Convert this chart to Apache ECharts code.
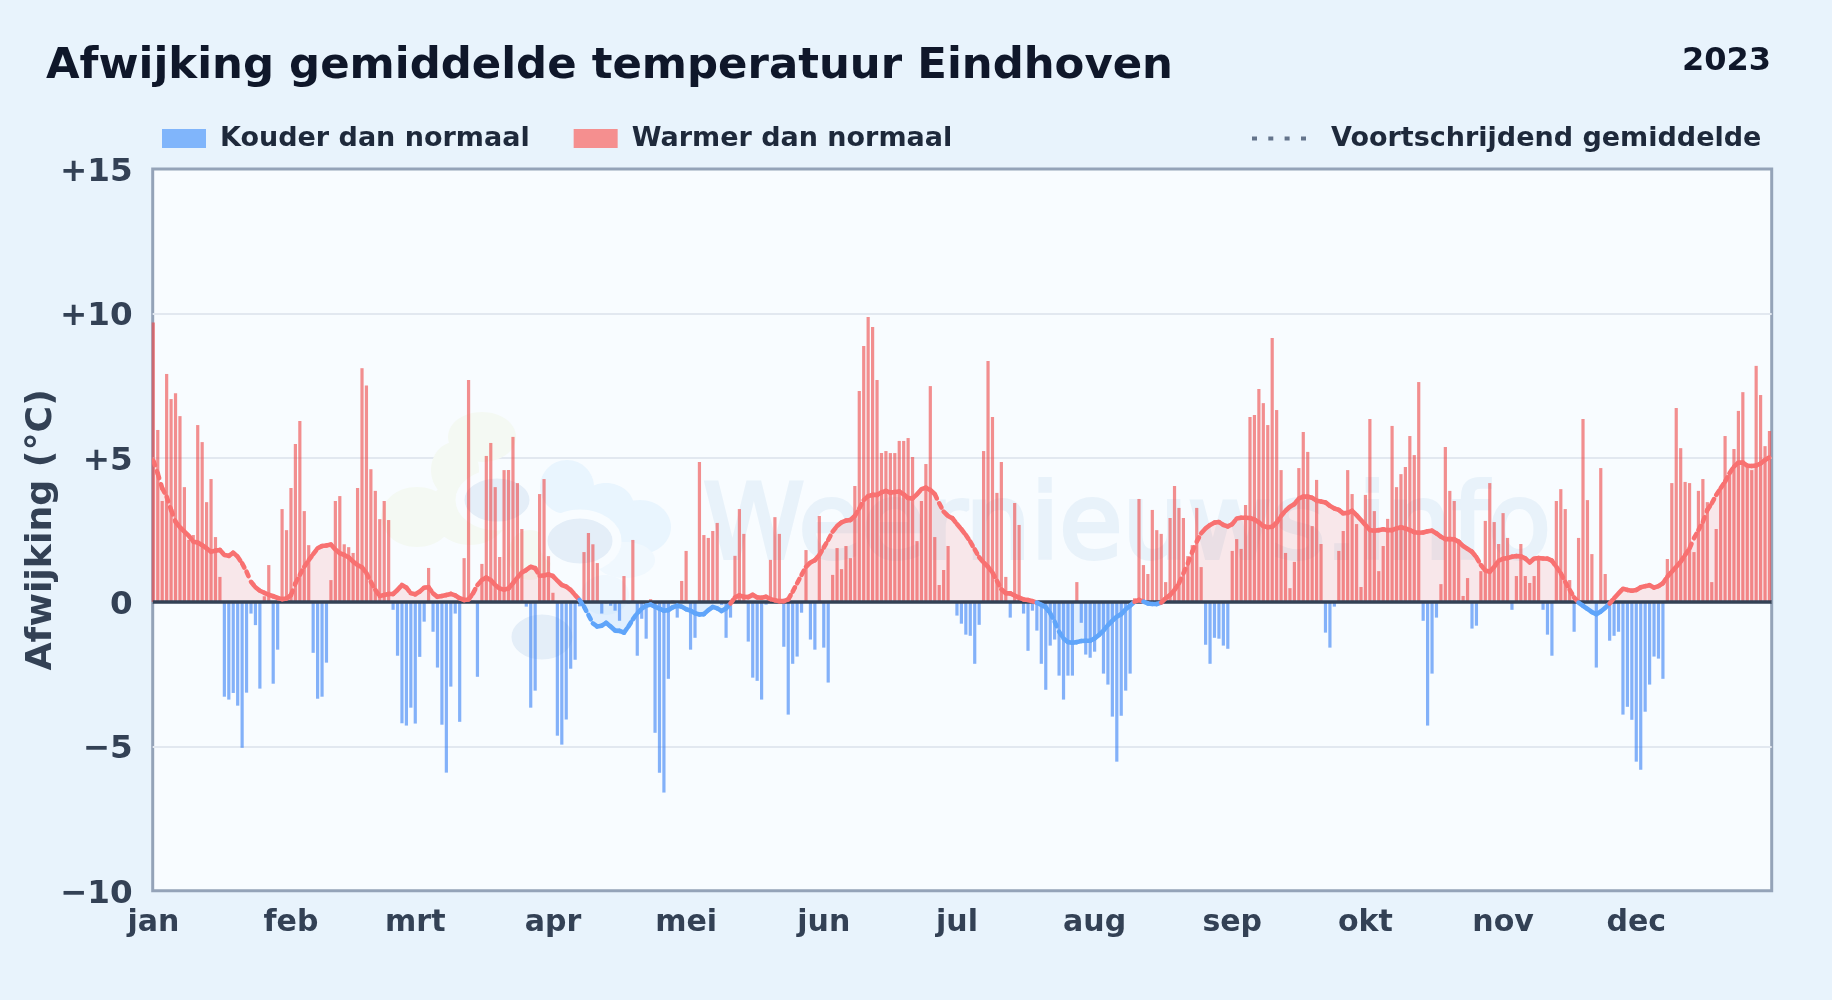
<!DOCTYPE html>
<html><head><meta charset="utf-8">
<style>html,body{margin:0;padding:0;background:#e8f3fc}#c{width:1832px;height:1000px}</style>
<script src="https://cdn.jsdelivr.net/npm/echarts@6/dist/echarts.min.js"></script>
</head><body><div id="c"></div>
<script>
const titleText = 'Afwijking gemiddelde temperatuur Eindhoven';
const yearText = '2023';
const yAxisTitle = 'Afwijking (°C)';
const monthNames = ['jan','feb','mrt','apr','mei','jun','jul','aug','sep','okt','nov','dec'];
const monthStarts = [0,31,59,90,120,151,181,212,243,273,304,334];
const yTicks = {'15':'+15','10':'+10','5':'+5','0':'0','-5':'−5','-10':'−10'};
const deviation = [
9.68,5.96,3.5,7.9,7.03,7.23,6.44,3.98,2.15,2.32,6.13,5.54,3.46,4.26,2.25,0.87,-3.28,-3.38,-3.15,-3.59,-5.05,-3.14,-0.4,-0.8,-3.0,0.2,1.28,-2.83,-1.65,3.22,2.49,
3.95,5.47,6.27,3.15,1.97,-1.76,-3.35,-3.28,-2.1,0.76,3.5,3.67,2.0,1.9,1.7,3.95,8.1,7.5,4.6,3.85,2.87,3.5,2.84,-0.27,-1.86,-4.2,-4.28,-3.66,
-4.21,-1.9,-0.68,1.18,-1.03,-2.27,-4.25,-5.91,-2.93,-0.4,-4.15,1.52,7.69,0.05,-2.59,1.32,5.06,5.51,3.98,1.56,4.57,4.57,5.72,4.12,2.53,-0.16,-3.66,-3.07,3.74,4.26,1.59,
0.32,-4.63,-4.94,-4.07,-2.31,-2.0,-0.15,1.73,2.39,2.0,1.35,-0.4,-0.05,-0.13,-0.3,-0.65,0.9,-0.05,2.15,-1.86,-0.58,-1.27,0.1,-4.53,-5.91,-6.6,-2.66,0.05,-0.54,0.73,
1.77,-1.65,-1.24,4.85,2.32,2.22,2.46,2.74,-0.1,-1.24,-0.54,1.6,3.22,2.36,-1.37,-2.62,-2.73,-3.38,-0.09,1.46,2.94,2.36,-1.55,-3.9,-2.14,-1.89,-0.37,1.8,-1.3,-1.65,2.98,
-1.58,-2.79,0.94,1.87,1.14,1.94,1.52,4.02,7.31,8.87,9.87,9.53,7.69,5.16,5.23,5.16,5.16,5.58,5.58,5.68,5.02,2.11,3.5,4.78,7.48,2.25,0.59,1.11,1.94,0.03,
-0.47,-0.75,-1.13,-1.17,-2.14,-0.79,5.23,8.35,6.41,3.78,4.85,0.87,-0.54,3.43,2.67,-0.4,-1.69,-0.3,-0.99,-2.14,-3.04,-1.51,-1.3,-2.55,-3.38,-2.55,-2.55,0.69,-0.72,-1.82,-1.93,
-1.72,-1.2,-2.48,-2.86,-3.97,-5.53,-3.94,-3.07,-2.48,0.13,3.57,1.28,0.97,3.19,2.49,2.36,0.69,2.91,4.02,3.26,2.91,1.59,1.97,3.26,1.21,-1.48,-2.14,-1.24,-1.27,-1.51,
-1.62,1.77,2.18,1.84,3.36,6.41,6.48,7.38,6.89,6.13,9.15,6.65,4.57,1.7,0.48,1.39,4.64,5.89,5.2,2.63,4.23,2.01,-1.06,-1.58,-0.16,1.77,2.46,4.57,3.74,2.7,0.52,
3.71,6.34,3.15,1.07,1.94,2.88,6.1,3.98,4.43,4.68,5.75,5.09,7.62,-0.65,-4.28,-2.48,-0.54,0.62,5.37,3.85,3.5,2.11,0.21,0.83,-0.92,-0.82,1.07,2.81,4.12,
2.77,2.01,3.08,2.22,-0.27,0.9,2.01,0.9,0.66,0.9,1.45,-0.27,-1.13,-1.86,3.5,3.91,3.22,0.76,-1.03,2.22,6.34,3.53,1.66,-2.27,4.64,0.97,-1.34,-1.17,-1.03,-3.9,
-3.63,-4.08,-5.53,-5.81,-3.8,-2.86,-1.89,-1.96,-2.66,1.49,4.12,6.72,5.33,4.16,4.12,1.73,3.85,4.26,3.46,0.69,2.53,3.9,5.75,4.5,5.3,6.62,7.27,4.66,4.57,8.18,7.17,5.4,5.92
];
const runningMean = [
4.9,4.45,3.94,3.65,3.19,2.78,2.59,2.44,2.29,2.09,2.06,1.97,1.86,1.74,1.78,1.8,1.63,1.6,1.71,1.57,1.34,1.05,0.7,0.51,0.39,0.32,0.25,0.2,0.14,0.1,0.12,
0.24,0.65,0.94,1.22,1.45,1.66,1.86,1.94,1.96,1.99,1.82,1.69,1.63,1.55,1.4,1.28,1.2,1.0,0.7,0.42,0.21,0.24,0.28,0.28,0.42,0.59,0.5,0.3,
0.27,0.36,0.5,0.51,0.3,0.18,0.21,0.24,0.28,0.23,0.13,0.07,0.09,0.3,0.59,0.76,0.85,0.76,0.59,0.47,0.43,0.47,0.65,0.85,1.02,1.11,1.22,1.17,0.91,0.92,0.96,
0.9,0.74,0.59,0.53,0.42,0.24,0.07,-0.16,-0.45,-0.74,-0.85,-0.82,-0.72,-0.85,-0.99,-1.0,-1.06,-0.85,-0.6,-0.39,-0.23,-0.13,-0.09,-0.16,-0.23,-0.3,-0.28,-0.18,-0.13,-0.16,
-0.25,-0.3,-0.39,-0.43,-0.42,-0.28,-0.17,-0.22,-0.31,-0.22,-0.05,0.16,0.23,0.18,0.17,0.25,0.16,0.15,0.18,0.1,0.06,0.03,0.03,0.09,0.36,0.65,0.94,1.22,1.37,1.45,1.63,
1.89,2.15,2.44,2.63,2.76,2.82,2.84,2.98,3.24,3.53,3.67,3.71,3.71,3.8,3.85,3.79,3.81,3.83,3.73,3.6,3.59,3.73,3.91,3.96,3.88,3.74,3.42,3.13,2.98,2.9,
2.7,2.52,2.32,2.09,1.82,1.55,1.37,1.22,1.02,0.73,0.44,0.3,0.3,0.22,0.15,0.09,0.07,0.03,-0.02,-0.1,-0.18,-0.39,-0.68,-1.03,-1.26,-1.39,-1.41,-1.39,-1.35,-1.34,-1.34,
-1.26,-1.14,-0.99,-0.8,-0.65,-0.51,-0.42,-0.25,-0.13,0.01,0.07,0.01,-0.05,-0.07,-0.07,-0.02,0.13,0.24,0.42,0.65,0.99,1.34,1.74,2.09,2.38,2.55,2.67,2.75,2.77,2.67,
2.62,2.7,2.89,2.92,2.92,2.91,2.86,2.76,2.63,2.59,2.61,2.75,2.98,3.16,3.3,3.39,3.59,3.65,3.65,3.61,3.51,3.48,3.45,3.33,3.24,3.19,3.07,3.09,3.16,3.01,
2.84,2.67,2.49,2.47,2.49,2.52,2.49,2.49,2.55,2.59,2.55,2.49,2.42,2.4,2.41,2.45,2.47,2.38,2.26,2.18,2.18,2.17,2.09,1.94,1.84,1.74,1.55,1.28,1.09,1.05,
1.22,1.43,1.5,1.52,1.57,1.59,1.58,1.51,1.37,1.51,1.52,1.51,1.5,1.43,1.22,0.99,0.7,0.42,0.16,-0.02,-0.13,-0.24,-0.35,-0.42,-0.33,-0.2,-0.05,0.13,0.3,0.46,
0.42,0.39,0.42,0.51,0.55,0.58,0.5,0.55,0.65,0.88,1.05,1.22,1.4,1.63,1.86,2.21,2.49,2.78,3.19,3.42,3.71,3.94,4.17,4.46,4.69,4.83,4.83,4.72,4.71,4.73,4.8,4.92,5.01
];
const RED='#f87171', BLUE='#60a5fa', FONT='"DejaVu Sans"';
const warm = deviation.map((v,i)=> v>=0 ? [i,v] : [i,null]);
const cold = deviation.map((v,i)=> v<0 ? [i,v] : [i,null]);
const pos = runningMean.map((v,i)=>[i,Math.max(v,0)]);
const neg = runningMean.map((v,i)=>[i,Math.min(v,0)]);
const segs = runningMean.slice(1).map((v,i)=>[i,runningMean[i],i+1,v]);
const blob=(cx,cy,rx,ry,fill,stroke)=>({type:'ellipse',shape:{cx,cy,rx,ry},style:{fill,stroke:stroke||null,lineWidth:stroke?9:0},z:1,silent:true});
const GRN='#f4f9f3', LBL='#e9f5fe', SLT='#e4eef8', PLOT='#f8fcff';
const chart = echarts.init(document.getElementById('c'),null,{renderer:'canvas'});
const areaSeries=(name,data,color)=>({type:'line',name,data,symbol:'none',lineStyle:{width:0},areaStyle:{color,opacity:.15,origin:0},z:1.5,silent:true,animation:false});
const legendText={fontFamily:FONT,fontWeight:'bold',fontSize:27,color:'#1e293b'};
chart.setOption({
 animation:false,
 backgroundColor:'#e8f3fc',
 textStyle:{fontFamily:FONT},
 title:[
  {text:titleText,left:46,top:45.5,padding:0,textStyle:{fontFamily:FONT,fontWeight:'bold',fontSize:43.4,color:'#0f172a'}},
  {text:yearText,right:61,top:46,padding:0,textStyle:{fontFamily:FONT,fontWeight:'bold',fontSize:32,color:'#0f172a'}}
 ],
 legend:[
  {left:162,top:125,padding:0,itemWidth:44,itemHeight:19,itemGap:44,
   data:[{name:'Kouder dan normaal',icon:'rect',itemStyle:{color:'#80b5fb',opacity:1}},{name:'Warmer dan normaal',icon:'rect',itemStyle:{color:'#f58f8f',opacity:1}}],
   textStyle:{...legendText,padding:[0,0,0,9]},selectedMode:false},
  {left:1252,top:125,padding:0,itemWidth:54,itemHeight:4,
   data:[{name:'Voortschrijdend gemiddelde',icon:'path://M0,0h5v4h-5zM16.3,0h5v4h-5zM32.6,0h5v4h-5zM49,0h5v4h-5z',itemStyle:{color:'#64748b',opacity:1}}],
   textStyle:{...legendText,padding:[0,0,0,20]},selectedMode:false}
 ],
 grid:{left:152.7,top:169,width:1619,height:721.7,show:true,backgroundColor:PLOT,borderColor:'#94a3b8',borderWidth:3,containLabel:false},
 graphic:[
  blob(482,437,34,25,GRN),blob(455,470,24,28,GRN),blob(417,517,36,30,GRN),blob(470,510,40,35,GRN),blob(530,555,22,25,GRN),
  blob(567,487,27,27,LBL),blob(640,527,31,27,LBL),blob(606,507,28,24,LBL),blob(625,560,30,18,'#f0f8fe'),blob(605,595,24,20,'#f0f8fe'),
  blob(497,500,37,26,SLT,PLOT),blob(580,541,37,27,SLT,PLOT),blob(542,637,35,27,SLT,PLOT),
  {type:'text',z:1,silent:true,style:{x:703,y:531,text:'Weernieuws.info',verticalAlign:'middle',fontFamily:FONT,fontSize:102.8,fill:'#e8f2fa',stroke:'#e8f2fa',lineWidth:4}}
 ],
 xAxis:{type:'value',min:-0.14,max:364.5,
  axisLine:{show:false},axisTick:{show:false},splitLine:{show:false},
  axisLabel:{customValues:monthStarts,margin:18,fontFamily:FONT,fontWeight:'bold',fontSize:30,color:'#334155',hideOverlap:false,
   formatter:v=>monthNames[monthStarts.indexOf(Math.round(v))]}},
 yAxis:{type:'value',min:-10,max:15,interval:5,name:yAxisTitle,nameLocation:'middle',nameGap:93,nameRotate:90,nameMoveOverlap:false,
  nameTextStyle:{fontFamily:FONT,fontWeight:'bold',fontSize:36.3,color:'#334155'},
  axisLine:{show:false},axisTick:{show:false},
  splitLine:{showMinLine:false,showMaxLine:false,lineStyle:{color:'#e2e8f0',width:2}},
  axisLabel:{margin:20,fontFamily:FONT,fontWeight:'bold',color:'#334155',
    formatter:v=>'{t|'+yTicks[String(v)]+'}',
    rich:{t:{fontFamily:FONT,fontWeight:'bold',fontSize:32.6,color:'#334155',padding:[7,0,0,0]}}}},
 series:[
  areaSeries('pos',pos,RED),
  areaSeries('neg',neg,BLUE),
  {type:'bar',name:'Kouder dan normaal',data:cold,barWidth:3.2,barGap:'-100%',clip:false,itemStyle:{color:'#3b82f6',opacity:.62},z:2,animation:false},
  {type:'bar',name:'Warmer dan normaal',data:warm,barWidth:3.2,barGap:'-100%',clip:false,itemStyle:{color:'#ef4444',opacity:.6},z:2,animation:false,
   markLine:{silent:true,symbol:'none',z:5,label:{show:false},lineStyle:{color:'#334155',width:3.5,type:'solid',opacity:1},data:[{yAxis:0}],animation:false}},
  {type:'line',name:'Voortschrijdend gemiddelde',data:[],symbol:'none',itemStyle:{color:'#64748b'},lineStyle:{color:'#64748b',width:4}},
  {type:'custom',name:'segments',data:segs,z:6,silent:true,clip:true,
   encode:{x:[0,2],y:[1,3]},
   renderItem:(p,api)=>{
     const a=api.coord([api.value(0),api.value(1)]), b=api.coord([api.value(2),api.value(3)]);
     const m=(api.value(1)+api.value(3))/2;
     return {type:'line',shape:{x1:a[0],y1:a[1],x2:b[0],y2:b[1]},
       style:{stroke:m>=0?RED:BLUE,lineWidth:4.6,lineDash:[4.8,6.4],lineCap:'round',fill:null}};
   }}
 ]
});
</script></body></html>
